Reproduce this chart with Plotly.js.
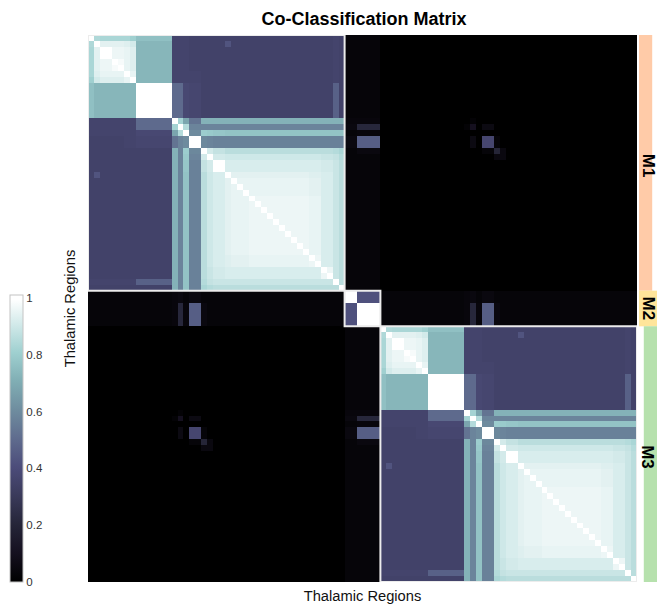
<!DOCTYPE html>
<html><head><meta charset="utf-8">
<script src="https://cdn.plot.ly/plotly-3.0.1.min.js"></script>
<style>html,body{margin:0;padding:0;background:#fff}#g{width:657px;height:604px}</style>
</head><body><div id="g"></div>
<script>
// Modules along the matrix, in cells
const moduleNames = ['M1','M2','M3'];
const moduleSizes = [43,6,43];
const moduleColors = ['#FFCBA8','#FFE59A','#B6E1AD'];

// Runs of neighbouring regions sharing a profile inside M1 and M3
const clusterSizes = [1,1,2,2,1,1,6,1,1,1,2,1,1,2,1,3,10,2,2,1,1];
// Lower triangle of the cluster-by-cluster values inside M1 and M3
const withinLower = [
[1],
[.84,1],
[.83,.94,1],
[.83,.94,.96,.98],
[.83,.93,.95,.95,1],
[.81,.91,.93,.93,.95,1],
[.76,.73,.73,.73,.73,.73,1],
[.36,.36,.36,.36,.36,.36,.50,1],
[.36,.36,.36,.36,.36,.36,.50,.82,1],
[.36,.36,.36,.36,.36,.36,.38,.68,.85,1],
[.35,.35,.35,.35,.36,.36,.37,.53,.58,.60,1],
[.35,.35,.35,.35,.35,.35,.35,.72,.58,.80,.59,1],
[.35,.35,.35,.35,.35,.35,.35,.72,.58,.79,.58,.91,1],
[.35,.35,.35,.35,.35,.35,.35,.72,.58,.78,.57,.88,.91,1],
[.35,.43,.35,.35,.35,.35,.35,.72,.58,.77,.57,.86,.90,.92,1],
[.35,.35,.35,.35,.35,.35,.35,.72,.58,.77,.57,.86,.90,.92,.94,.95],
[.35,.35,.35,.35,.35,.35,.35,.72,.58,.77,.57,.86,.90,.92,.94,.95,.96],
[.35,.35,.35,.35,.35,.35,.35,.72,.58,.77,.57,.86,.90,.92,.93,.94,.95,.96],
[.35,.35,.35,.35,.35,.35,.35,.72,.58,.77,.57,.86,.89,.91,.92,.92,.92,.92,.96],
[.36,.36,.36,.36,.36,.36,.47,.72,.58,.77,.57,.85,.88,.89,.89,.89,.89,.89,.89,1],
[.35,.35,.35,.35,.35,.35,.35,.72,.58,.77,.57,.83,.85,.86,.86,.86,.86,.86,.86,.86,1]
];
// M1/M3 clusters against M2 runs
const m2Sizes = [2,4];
const m2Within = [[1,.42],[.42,1]];
const outerToM2 = [
[.03,.03],[.03,.03],[.03,.03],[.03,.03],[.03,.03],[.03,.03],[.03,.03],
[.04,.04],[.05,.21],[.03,.04],[.05,.46],[.03,.05],[.03,.03],[.03,.03],
[.03,.03],[.03,.03],[.03,.03],[.03,.03],[.03,.03],[.03,.03],[.03,.03]
];
// Sparse M1-to-M3 cluster values: [cluster in one module, cluster in the other, value]
const crossLinks = [[8,8,.10],[8,10,.06],[10,8,.06],[10,10,.37],[10,11,.03],[11,10,.03],[11,11,.20],[11,12,.05],[12,11,.05],[12,12,.05],[7,8,.02],[8,7,.02]];
const crossBase = 0.0;

const boneStops = [[0,'#000000'],[.1,'#15101f'],[.2,'#252538'],[.3,'#3a3a5a'],[.4,'#4c4c7a'],[.5,'#5f6c8e'],[.6,'#6f8d9f'],[.7,'#80aeb4'],[.8,'#9fd0d0'],[.9,'#d3eaea'],[.985,'#ffffff'],[1,'#ffffff']];
const colorbarTicks = [0,.2,.4,.6,.8,1];
const titleText = 'Co-Classification Matrix';
const axisLabel = 'Thalamic Regions';

function cellsOf(sizes){const out=[];sizes.forEach((s,k)=>{for(let n=0;n<s;n++)out.push(k);});return out;}
const cInner = cellsOf(clusterSizes), cM2 = cellsOf(m2Sizes);
const within=(a,b)=>a>=b?withinLower[a][b]:withinLower[b][a];
const cross=(a,b)=>{const h=crossLinks.find(l=>l[0]===a&&l[1]===b);return h?h[2]:crossBase;};
const nA=moduleSizes[0],nB=moduleSizes[1],nC=moduleSizes[2],N=nA+nB+nC;
function part(i){return i<nA?['A',i]:i<nA+nB?['B',i-nA]:['C',i-nA-nB];}
const z=[];
for(let r=0;r<N;r++){const row=[];const [pr,ir]=part(r);
  for(let c=0;c<N;c++){const [pc,ic]=part(c);let v;
    if(r===c)v=1;
    else if(pr==='B'&&pc==='B')v=m2Within[cM2[ir]][cM2[ic]];
    else if(pr==='B')v=outerToM2[cInner[ic]][cM2[ir]];
    else if(pc==='B')v=outerToM2[cInner[ir]][cM2[ic]];
    else if(pr===pc)v=within(cInner[ir],cInner[ic]);
    else v=cross(cInner[ir],cInner[ic]);
    row.push(v);}
  z.push(row);}

const edges=[-0.5];moduleSizes.forEach(s=>edges.push(edges[edges.length-1]+s));
const traces=[{type:'heatmap',z:z,zmin:0,zmax:1.0105,colorscale:boneStops,hoverinfo:'skip',
  colorbar:{x:(10-88)/569,xanchor:'left',y:0,yanchor:'bottom',thickness:13,thicknessmode:'pixels',len:287,lenmode:'pixels',
    xpad:0,ypad:0,outlinecolor:'#c4c4c4',outlinewidth:1,ticks:'',tickvals:colorbarTicks,ticktext:colorbarTicks.map(String),ticklabelposition:'outside',
    tickfont:{family:'Liberation Sans, Arial',size:11.5,color:'#333'}}}];
moduleNames.forEach((m,k)=>traces.push({type:'bar',xaxis:'x2',yaxis:'y',x:[0],y:[moduleSizes[k]],base:[edges[k]],width:[1],orientation:'v',
  marker:{color:moduleColors[k],line:{width:0}},showlegend:false,hoverinfo:'skip',name:m}));

const layout={width:657,height:604,margin:{l:88,r:0,t:35,b:22,autoexpand:false},paper_bgcolor:'#fff',plot_bgcolor:'#fff',showlegend:false,
  font:{family:'Liberation Sans, Arial',color:'#111'},
  title:{text:titleText,font:{family:'Liberation Sans, Arial',size:18,weight:'bold',color:'#000'},x:364/657,xanchor:'center',y:1-19/604,yanchor:'middle',yref:'container',xref:'container'},
  xaxis:{domain:[0,549/569],range:[-0.5,N-0.5],showticklabels:false,ticks:'',showgrid:false,zeroline:false,showline:false,
    title:{text:axisLabel,font:{size:14.7,color:'#111'},standoff:8}},
  yaxis:{range:[N-0.5,-0.5],showticklabels:false,ticks:'',showgrid:false,zeroline:false,showline:false,
    title:{text:axisLabel,font:{size:14.7,color:'#111'},standoff:7}},
  xaxis2:{domain:[551/569,1],range:[-0.5,0.5],showticklabels:false,ticks:'',showgrid:false,zeroline:false,anchor:'y'},
  shapes:moduleNames.map((m,k)=>({type:'rect',xref:'x',yref:'y',x0:edges[k],x1:edges[k+1],y0:edges[k],y1:edges[k+1],line:{color:'#ececec',width:2},fillcolor:'rgba(0,0,0,0)',layer:'above'})),
  annotations:moduleNames.map((m,k)=>({xref:'x2',yref:'y',x:0,y:(edges[k]+edges[k+1])/2+(k===1?0:0.5),text:m,showarrow:false,textangle:90,font:{family:'Liberation Sans, Arial',size:17,weight:'bold',color:'#000'}}))
};
Plotly.newPlot('g',traces,layout,{displayModeBar:false,staticPlot:true});
</script></body></html>
